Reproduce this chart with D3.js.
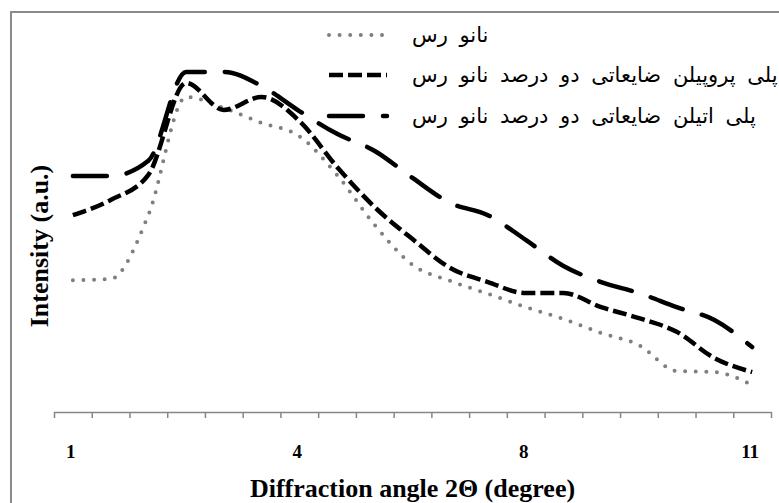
<!DOCTYPE html>
<html>
<head>
<meta charset="utf-8">
<script src="https://cdn.jsdelivr.net/npm/d3@7"></script>
<style>
  body { margin: 0; background: #fff; }
  svg { display: block; }
</style>
</head>
<body>
<div id="chart"></div>
<script>
// categories along the x axis (only every sixth one carries a label)
const categories = ['1', '', '', '', '', '', '4', '', '', '', '', '', '8', '', '', '', '', '', '11'];

// intensity (a.u.)
const nanoClay = [34.7, 35.0, 51.8, 82.9, 80.0, 76.1, 72.6, 62.4, 49.2, 38.7, 34.5, 31.1, 27.6, 24.5, 20.8, 17.6, 10.8, 10.5, 7.1];
const ppClay   = [51.8, 55.8, 62.4, 86.6, 79.5, 82.9, 76.6, 64.5, 53.9, 45.5, 37.9, 34.2, 31.3, 31.3, 27.6, 24.7, 21.1, 14.2, 10.5];
const peClay   = [62.1, 62.1, 66.1, 89.5, 89.5, 85.8, 79.2, 73.2, 68.7, 61.6, 55.0, 51.8, 45.3, 38.4, 34.2, 31.3, 27.6, 24.2, 17.1];

const seriesNames = ['نانو رس', 'پلی پروپیلن ضایعاتی دو درصد نانو رس', 'پلی اتیلن ضایعاتی دو درصد نانو رس'];

const width = 779, height = 503;
const margin = {top: 32, right: 8, bottom: 91, left: 54};

const svg = d3.select('#chart').append('svg')
    .attr('width', width)
    .attr('height', height);

// chart frame (runs off the picture on the right and bottom)
svg.append('rect')
    .attr('x', 11).attr('y', 12)
    .attr('width', 820).attr('height', 540)
    .attr('fill', 'none')
    .attr('stroke', '#8a8a8a')
    .attr('stroke-width', 2);

const plotW = width - margin.left - margin.right,
      plotH = height - margin.top - margin.bottom;

const g = svg.append('g')
    .attr('transform', 'translate(' + margin.left + ',' + margin.top + ')');

const x = d3.scaleBand()
    .domain(d3.range(categories.length))
    .range([0, plotW])
    .padding(0);

const y = d3.scaleLinear()
    .domain([0, 100])
    .range([plotH, 0]);

// tick marks sit between categories
const xEdge = d3.scaleLinear()
    .domain([0, categories.length])
    .range([0, plotW]);

const tickAxis = g.append('g')
    .attr('transform', 'translate(0,' + plotH + ')')
    .call(d3.axisBottom(xEdge)
      .tickValues(d3.range(categories.length + 1))
      .tickFormat('')
      .tickSize(6)
      .tickSizeOuter(0));
tickAxis.selectAll('line, path')
    .attr('stroke', '#868686')
    .attr('stroke-width', 1.5);

const labelAxis = g.append('g')
    .attr('transform', 'translate(0,' + plotH + ')')
    .call(d3.axisBottom(x)
      .tickValues(d3.range(categories.length).filter(i => categories[i] !== ''))
      .tickFormat(i => categories[i])
      .tickSize(0)
      .tickPadding(33));
labelAxis.select('.domain').remove();
labelAxis.selectAll('text')
    .attr('fill', '#000')
    .attr('dx', '-2')
    .style('font-family', '"Liberation Serif", "Times New Roman", serif')
    .style('font-size', '19px')
    .style('font-weight', 'bold');

// axis titles
svg.append('text')
    .attr('x', margin.left + plotW / 2)
    .attr('y', 497)
    .attr('text-anchor', 'middle')
    .style('font-family', '"Liberation Serif", "Times New Roman", serif')
    .style('font-size', '26px')
    .style('font-weight', 'bold')
    .text('Diffraction angle 2Θ  (degree)');

svg.append('text')
    .attr('transform', 'translate(48,246) rotate(-90)')
    .attr('text-anchor', 'middle')
    .style('font-family', '"Liberation Serif", "Times New Roman", serif')
    .style('font-size', '26px')
    .style('font-weight', 'bold')
    .text('Intensity (a.u.)');

const line = d3.line()
    .x((d, i) => x(i) + x.bandwidth() / 2)
    .y(d => y(d))
    .curve(d3.curveMonotoneX);

const styles = [
  {stroke: '#7f7f7f', width: 4, dash: '0,10.6', cap: 'round'},
  {stroke: '#000', width: 4.5, dash: '14,5', cap: 'butt'},
  {stroke: '#000', width: 4.5, dash: '34,20', cap: 'round'}
];

[nanoClay, ppClay, peClay].forEach((data, k) => {
  g.append('path')
      .datum(data)
      .attr('fill', 'none')
      .attr('stroke', styles[k].stroke)
      .attr('stroke-width', styles[k].width)
      .attr('stroke-dasharray', styles[k].dash)
      .attr('stroke-linecap', styles[k].cap)
      .attr('stroke-linejoin', 'round')
      .attr('d', line);
});

// legend
const legendY = [35, 75, 116];
seriesNames.forEach((name, k) => {
  svg.append('line')
      .attr('x1', 329).attr('x2', 387)
      .attr('y1', legendY[k]).attr('y2', legendY[k])
      .attr('stroke', styles[k].stroke)
      .attr('stroke-width', styles[k].width)
      .attr('stroke-dasharray', styles[k].dash)
      .attr('stroke-linecap', styles[k].cap);
  svg.append('text')
      .attr('x', 412)
      .attr('y', legendY[k] + 7)
      .style('font-family', '"DejaVu Sans", sans-serif')
      .style('font-size', '21px')
      .style('word-spacing', '5px')
      .text(name);
});
</script>
</body>
</html>
